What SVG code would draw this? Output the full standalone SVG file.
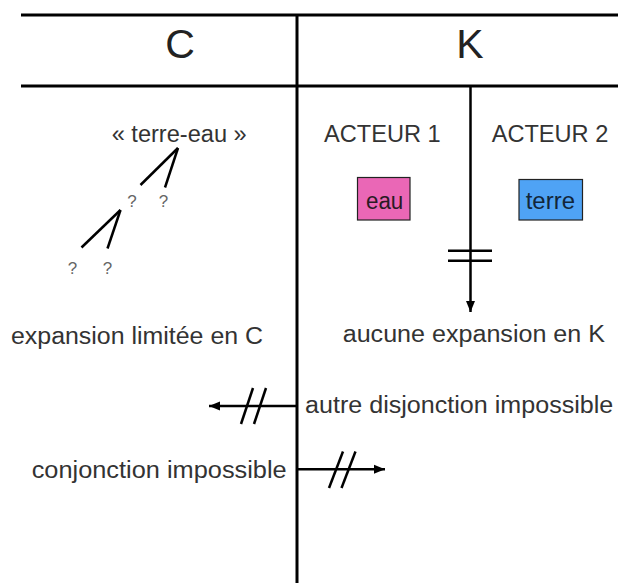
<svg xmlns="http://www.w3.org/2000/svg" width="618" height="583" viewBox="0 0 618 583">
  <defs>
    <marker id="ah" markerUnits="userSpaceOnUse" markerWidth="12" markerHeight="10" refX="11" refY="5" orient="auto">
      <path d="M0,0.5 L11,5 L0,9.5 z" fill="#000"/>
    </marker>
  </defs>
  <style>
    .frame { stroke: #000; stroke-width: 3; fill: none; }
    .ln { stroke: #000; stroke-width: 2.5; fill: none; }
    .t { font-family: "Liberation Sans", Arial, sans-serif; font-size: 23px; fill: #333; }
    .h { font-family: "Liberation Sans", Arial, sans-serif; font-size: 41px; fill: #222; text-anchor: middle; }
    .q { font-family: "Liberation Sans", Arial, sans-serif; font-size: 17px; fill: #666; text-anchor: middle; }
    .box { stroke: #222; stroke-width: 1.2; }
  </style>
  <rect width="618" height="583" fill="#fff"/>

  <g id="frame">
    <line class="frame" x1="21" y1="15" x2="618" y2="15"/>
    <line class="frame" x1="21" y1="86" x2="618" y2="86"/>
    <line class="frame" x1="297" y1="15" x2="297" y2="583"/>
  </g>

  <g id="header-C"><text class="h" x="180" y="58">C</text></g>
  <g id="header-K"><text class="h" x="470" y="58">K</text></g>

  <g id="terre-eau">
    <text class="t" x="111.7" y="141.7" textLength="135" lengthAdjust="spacingAndGlyphs">« terre-eau »</text>
  </g>
  <g id="tree">
    <line class="ln" x1="178" y1="148" x2="140.5" y2="185"/>
    <line class="ln" x1="178" y1="148" x2="165" y2="187.5"/>
    <text class="q" x="132" y="206.5">?</text>
    <text class="q" x="163.5" y="206.5">?</text>
    <line class="ln" x1="120.5" y1="210" x2="81.5" y2="247.5"/>
    <line class="ln" x1="120.5" y1="210" x2="107.5" y2="248.5"/>
    <text class="q" x="72.5" y="273.5">?</text>
    <text class="q" x="107.5" y="273.5">?</text>
  </g>

  <g id="acteur1">
    <text class="t" x="324" y="141.7" textLength="116.7" lengthAdjust="spacingAndGlyphs">ACTEUR 1</text>
  </g>
  <g id="acteur2">
    <text class="t" x="491.7" y="141.7" textLength="116.6" lengthAdjust="spacingAndGlyphs">ACTEUR 2</text>
  </g>

  <g id="eau">
    <rect class="box" x="357.5" y="177.5" width="52.5" height="42.5" fill="#ea67b6"/>
    <text class="t" x="366" y="208.5" textLength="37.3" lengthAdjust="spacingAndGlyphs" fill="#222" style="fill:#2a1a24">eau</text>
  </g>
  <g id="terre">
    <rect class="box" x="519" y="179.5" width="63.5" height="40.5" fill="#4fa3f5"/>
    <text class="t" x="525.7" y="208.5" textLength="49.3" lengthAdjust="spacingAndGlyphs" style="fill:#12263a">terre</text>
  </g>

  <g id="expansion-C">
    <text class="t" x="11" y="344" textLength="252" lengthAdjust="spacingAndGlyphs">expansion limitée en C</text>
  </g>
  <g id="expansion-K">
    <text class="t" x="342.7" y="341.7" textLength="262.3" lengthAdjust="spacingAndGlyphs">aucune expansion en K</text>
  </g>
  <g id="disjonction">
    <text class="t" x="305" y="413.3" textLength="308.3" lengthAdjust="spacingAndGlyphs">autre disjonction impossible</text>
  </g>
  <g id="conjonction">
    <text class="t" x="31.7" y="478.3" textLength="255" lengthAdjust="spacingAndGlyphs">conjonction impossible</text>
  </g>

  <g id="connectors">
    <line class="ln" x1="470.5" y1="86" x2="470.5" y2="312" marker-end="url(#ah)"/>
    <line class="ln" x1="448" y1="250.7" x2="492" y2="250.7"/>
    <line class="ln" x1="448" y1="260.7" x2="492" y2="260.7"/>

    <line class="ln" x1="297" y1="406" x2="209" y2="406" marker-end="url(#ah)"/>
    <line class="ln" x1="253" y1="388" x2="241" y2="424"/>
    <line class="ln" x1="266" y1="388" x2="254" y2="424"/>

    <line class="ln" x1="297" y1="469.3" x2="385" y2="469.3" marker-end="url(#ah)"/>
    <line class="ln" x1="343" y1="451.5" x2="329" y2="488"/>
    <line class="ln" x1="355.5" y1="451.5" x2="341.5" y2="488"/>
  </g>
</svg>
